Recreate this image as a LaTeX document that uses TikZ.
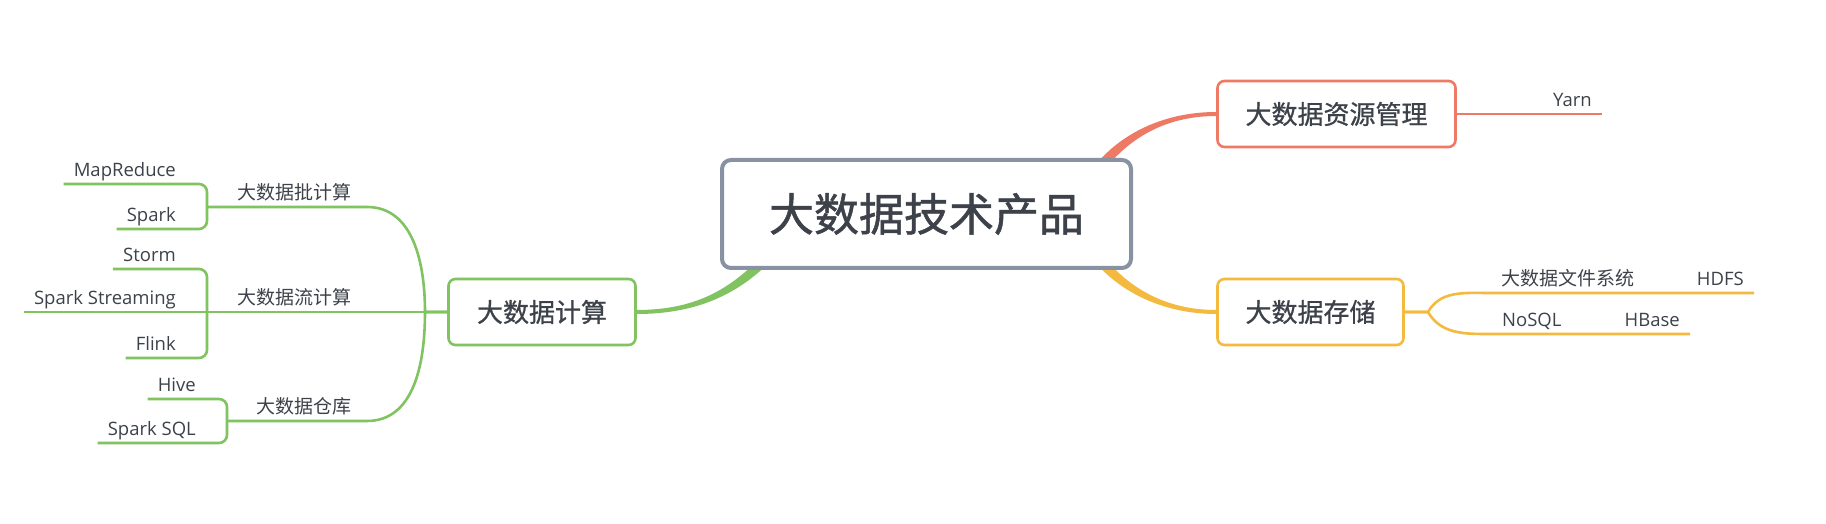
\documentclass[tikz,border=0pt]{standalone}
\usepackage{fontspec}
\setmainfont{Open Sans}
\newfontfamily\cjk{Noto Sans CJK SC}
\newfontfamily\cjkmid{Noto Sans CJK SC}[FakeBold=0.8]
\newfontfamily\cjkbig{Noto Sans CJK SC}[FakeBold=1.2]
\usetikzlibrary{positioning}
\usetikzlibrary{backgrounds}

\definecolor{gcol}{RGB}{128,195,96}
\definecolor{rcol}{RGB}{238,121,101}
\definecolor{ycol}{RGB}{244,186,64}
\definecolor{bcol}{RGB}{137,146,162}
\definecolor{tcol}{RGB}{61,66,74}

\tikzset{
  topic/.style={draw=#1, fill=white, rounded corners=7pt, line width=2.6pt, inner sep=0pt,
    minimum height=66pt, text=tcol, font=\cjkmid\fontsize{26}{30}\selectfont},
  sub/.style={inner xsep=15pt, inner ysep=7pt, text depth=0pt, text=tcol, font=\cjk\fontsize{19}{22}\selectfont},
  leaf/.style={inner xsep=10pt, inner ysep=7pt, text depth=0pt, text=tcol, font=\fontsize{18.5}{22}\selectfont},
  conn/.style={line width=2.6pt, draw=#1},
}

\begin{document}
\begin{tikzpicture}[x=1pt, y=1pt]
        \useasboundingbox (0,0) rectangle (1826,524);

        \node[draw=bcol, fill=white, line width=4pt, rounded corners=9pt, minimum width=409pt, minimum height=108pt, inner sep=0pt, text=tcol, font=\cjkbig\fontsize{45}{50}\selectfont] (root) at (926.5,310) {大数据技术产品};
        \node[topic=gcol, minimum width=187pt] (calc) at (542,212) {大数据计算};
        \node[topic=rcol, minimum width=238pt] (res) at (1336.5,410) {大数据资源管理};
        \node[topic=ycol, minimum width=186pt] (store) at (1310.5,212) {大数据存储};

        \coordinate (J) at (425,212);
        \coordinate (b1) at (207,317);
        \coordinate (b2) at (207,212);
        \coordinate (b3) at (227,103);
        \coordinate (sp) at (1428,212);

        \node[sub, anchor=south east] (bat) at (367,317) {大数据批计算};
        \node[sub, anchor=south east] (stl) at (367,212) {大数据流计算};
        \node[sub, anchor=south east] (wh) at (367,103) {大数据仓库};

        \node[leaf, anchor=south east] (mr) at (186,340) {MapReduce};
        \node[leaf, anchor=south east] (spk) at (186,295) {Spark};
        \node[leaf, anchor=south east] (stm) at (186,255) {Storm};
        \node[leaf, anchor=south east] (sst) at (186,212) {Spark Streaming};
        \node[leaf, anchor=south east] (flk) at (186,166) {Flink};
        \node[leaf, anchor=south east] (hv) at (206,125) {Hive};
        \node[leaf, anchor=south east] (ssq) at (206,81) {Spark SQL};

        \node[leaf, anchor=south east] (yarn) at (1602,410) {Yarn};
        \node[sub, inner xsep=12pt, anchor=south west] (fs) at (1489,231) {大数据文件系统};
        \node[leaf, anchor=south east] (hdfs) at (1754,231) {HDFS};
        \node[leaf, inner xsep=13pt, anchor=south west] (nosql) at (1489,190) {NoSQL};
        \node[leaf, anchor=south east] (hbase) at (1690,190) {HBase};

        \begin{scope}[on background layer]
        \fill[white] (0,0) rectangle (1826,524);

        \fill[gcol] ([yshift=2pt]calc.east) .. controls +(63,0) and +(-35,-40) .. ([shift={(51,24)}]root.south west)
          -- ([shift={(59,18)}]root.south west) .. controls +(-35,-40) and +(63,0) .. ([yshift=-2pt]calc.east) -- cycle;
        \fill[rcol] ([yshift=2pt]res.west) .. controls +(-55,0) and +(25,35) .. ([shift={(-42,-13)}]root.north east)
          -- ([shift={(-34,-19)}]root.north east) .. controls +(25,35) and +(-55,0) .. ([yshift=-2pt]res.west) -- cycle;
        \fill[ycol] ([yshift=2pt]store.west) .. controls +(-55,0) and +(25,-33) .. ([shift={(-34,19)}]root.south east)
          -- ([shift={(-42,13)}]root.south east) .. controls +(25,-33) and +(-55,0) .. ([yshift=-2pt]store.west) -- cycle;

        \draw[conn=gcol] (calc.west) -- (J) to[out=90,in=0] (bat.south east) -- (b1);
        \draw[conn=gcol] (calc.west) -- (J) -- (sst.south west);
        \draw[conn=gcol] (calc.west) -- (J) to[out=-90,in=0] (wh.south east) -- (b3);
        \draw[conn=gcol, rounded corners=8pt] (mr.south west) -| (b1) |- (spk.south west);
        \draw[conn=gcol, rounded corners=8pt] (stm.south west) -| (b2) |- (flk.south west);
        \draw[conn=gcol, rounded corners=8pt] (hv.south west) -| (b3) |- (ssq.south west);

        \draw[conn=rcol] (res.east) -- (yarn.south east);
        \draw[conn=ycol] (store.east) -- (sp) to[out=60,in=180] (fs.south west) -- (hdfs.south east);
        \draw[conn=ycol] (store.east) -- (sp) to[out=-60,in=180] (nosql.south west) -- (hbase.south east);
        \end{scope}
\end{tikzpicture}
\end{document}
